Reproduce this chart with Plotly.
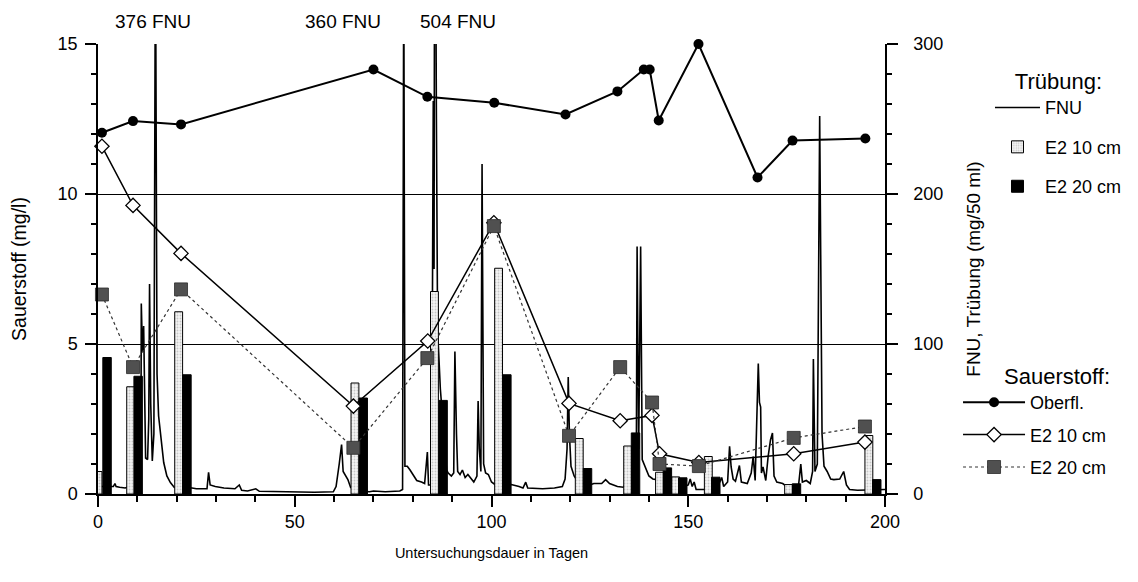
import plotly.graph_objects as go

# ---------------- data ----------------
# Continuous turbidity record (FNU), right axis
fnu_day = [0.0, 2.0, 3.9, 4.3, 4.6, 5.5, 6.9, 8.0, 9.5, 10.5, 10.9, 11.0, 11.3, 11.6, 11.9, 12.1, 12.6, 12.9,
           13.1, 13.4, 13.8, 14.2, 14.6, 15.0, 15.4, 16.0, 16.7, 17.5, 18.4, 19.4, 21.0, 23.9, 25.0, 27.7,
           28.1, 28.5, 29.8, 32.0, 34.8, 35.9, 36.5, 38.0, 40.1, 41.0, 45.0, 50.0, 55.0, 59.8, 60.5, 61.3,
           61.9, 62.3, 62.9, 63.5, 64.2, 66.0, 69.0, 70.0, 73.0, 76.7, 77.4, 77.7, 78.0, 78.6, 79.3, 80.2,
           81.0, 82.2, 83.0, 83.7, 84.0, 84.8, 85.2, 85.4, 85.6, 86.0, 86.3, 87.0, 88.6, 89.0, 89.8, 90.4,
           90.7, 91.1, 91.4, 92.0, 92.6, 93.3, 94.0, 94.9, 95.5, 96.3, 96.6, 96.9, 97.3, 97.6, 98.0, 98.5,
           99.2, 100.0, 101.0, 104.0, 105.0, 107.0, 108.0, 108.7, 109.2, 113.0, 116.0, 118.0, 118.7, 119.2,
           119.5, 119.8, 120.2, 121.0, 122.0, 125.0, 126.0, 128.0, 129.0, 130.0, 132.0, 133.5, 135.0, 136.8,
           137.0, 137.4, 137.9, 138.3, 139.0, 140.0, 141.0, 142.0, 143.0, 146.0, 148.0, 150.0, 150.5, 151.0,
           151.5, 152.0, 155.0, 157.0, 158.0, 158.5, 159.0, 160.0, 160.5, 160.9, 161.4, 162.0, 163.0, 163.5,
           165.0, 166.0, 166.5, 167.0, 167.8, 168.1, 168.4, 168.6, 169.0, 169.7, 170.3, 170.9, 171.4, 171.8,
           172.5, 174.0, 175.0, 178.0, 178.6, 179.0, 180.0, 181.0, 181.6, 181.8, 182.2, 182.8, 183.4, 184.0,
           184.5, 185.3, 186.2, 187.0, 188.5, 189.5, 190.2, 191.0, 193.0, 195.0, 197.0, 200.0]
fnu_val = [5, 5, 5, 7, 5, 4.5, 4, 5, 8, 15, 22, 127, 95, 112, 70, 24, 23, 50,
           140, 60, 22, 40, 376, 80, 52, 36, 21, 12, 7.6, 4.3, 4.5, 4, 3.5, 3.5,
           14.5, 6, 5, 4, 3.5, 6, 2.5, 2, 3.5, 1.8, 1.5, 1.6, 1.2, 1.5, 5, 20,
           33, 15, 12, 9.6, 4.3, 2, 1.5, 2, 1.5, 2, 3, 360, 18.5, 18.5, 16, 12,
           9, 8, 7, 28, 6, 6, 262, 150, 504, 250, 110, 70, 16, 14, 12, 14,
           95, 40, 15, 13, 16, 11, 13, 10, 8, 12, 62, 30, 15, 220, 20, 14,
           13, 8, 6, 6, 6.3, 5, 4, 7.9, 4, 3.5, 4, 5, 10, 30,
           78, 40, 18.5, 12, 8, 6, 7, 7, 9.6, 7, 5, 4.5, 10, 20,
           165, 30, 165, 23, 18, 12, 10, 9.6, 8, 5, 4, 6, 10, 5,
           8, 3, 3, 4, 8, 11, 5, 8, 31.8, 18, 10, 8.5, 19, 8,
           7, 14, 25, 9, 87, 61, 58, 14, 18, 9, 25, 36, 40.7, 12,
           8, 7, 5, 5, 20, 8, 9, 7, 15, 90, 15, 20, 252, 40,
           18.5, 15, 10, 9.6, 10, 15, 6, 3, 2.5, 2.5, 3, 3]

# Turbidity samples (mg/50 ml), right axis
bar10_day = [0.0, 8.3, 20.5, 65.3, 85.5, 101.8, 122.3, 134.6, 142.7, 146.8, 155.1, 175.5, 195.9]
bar10_val = [15, 71.5, 121.5, 74, 135, 150.5, 37, 32, 14.5, 11.4, 25, 6.3, 39]
bar20_day = [2.3, 10.2, 22.6, 67.4, 87.7, 103.9, 124.4, 136.6, 144.7, 148.6, 157.0, 177.5, 197.9]
bar20_val = [91, 78.5, 79.5, 64, 62.4, 79.5, 17, 40.7, 17.4, 10.8, 11.2, 6.8, 9.6]

# Oxygen (mg/l), left axis
o2_surf_day = [1.0, 8.9, 21.1, 70.0, 83.7, 100.7, 118.8, 132.0, 138.7, 140.2, 142.5, 152.6, 167.6, 176.5, 195.0]
o2_surf_val = [12.04, 12.43, 12.32, 14.15, 13.24, 13.04, 12.65, 13.42, 14.15, 14.15, 12.45, 15.0, 10.55, 11.78, 11.85]
o2_10_day = [1.0, 8.9, 21.1, 64.9, 83.8, 100.6, 119.7, 132.7, 140.8, 142.7, 152.7, 176.8, 194.9]
o2_10_val = [11.59, 9.62, 8.02, 2.93, 5.1, 9.04, 3.02, 2.44, 2.62, 1.34, 1.05, 1.34, 1.73]
o2_20_day = [1.0, 8.9, 21.1, 64.9, 83.7, 100.6, 119.7, 132.7, 140.8, 142.7, 152.7, 176.8, 194.9]
o2_20_val = [6.65, 4.23, 6.82, 1.54, 4.53, 8.93, 1.94, 4.23, 3.05, 1.0, 0.93, 1.87, 2.25]

# Off-scale peak labels
peak_labels = ["376 FNU", "360 FNU", "504 FNU"]
peak_label_day = [14.0, 62.3, 91.5]

# ---------------- figure ----------------
FONT = "Liberation Sans"
fig = go.Figure()

fig.add_trace(go.Scatter(
    x=fnu_day, y=fnu_val, mode="lines", name="FNU", yaxis="y",
    line=dict(color="black", width=1.6), legend="legend", legendgroup="a"))

fig.add_trace(go.Bar(
    x=bar10_day, y=bar10_val, width=[2.0] * len(bar10_day), name="E2 10 cm", yaxis="y2",
    marker=dict(color="#f0f0f0", line=dict(color="black", width=1),
                pattern=dict(shape=".", fgcolor="#9a9a9a", bgcolor="#f4f4f4", size=3, solidity=0.3)),
    legend="legend", legendgroup="b"))
fig.add_trace(go.Bar(
    x=bar20_day, y=bar20_val, width=[2.15] * len(bar20_day), name="E2 20 cm", yaxis="y2",
    marker=dict(color="black", line=dict(color="black", width=1)),
    legend="legend", legendgroup="c"))

fig.add_trace(go.Scatter(
    x=o2_surf_day, y=o2_surf_val, mode="lines+markers", name="Oberfl.", yaxis="y3",
    line=dict(color="black", width=2), marker=dict(symbol="circle", size=10, color="black"),
    cliponaxis=False, legend="legend2", legendgroup="d"))
fig.add_trace(go.Scatter(
    x=o2_10_day, y=o2_10_val, mode="lines+markers", name="E2 10 cm", yaxis="y3",
    line=dict(color="black", width=1.5),
    marker=dict(symbol="diamond", size=11, color="white", line=dict(color="black", width=1.3)),
    cliponaxis=False, legend="legend2", legendgroup="e"))
fig.add_trace(go.Scatter(
    x=o2_20_day, y=o2_20_val, mode="lines+markers", name="E2 20 cm", yaxis="y3",
    line=dict(color="#333333", width=1.2, dash="dot"),
    marker=dict(symbol="square", size=13, color="#505050", line=dict(color="#2a2a2a", width=0.8)),
    cliponaxis=False, legend="legend2", legendgroup="f"))

for lab, d in zip(peak_labels, peak_label_day):
    fig.add_annotation(x=d, xref="x", y=1, yref="paper", yanchor="bottom", yshift=10,
                       text=lab, showarrow=False, font=dict(size=19))

axis_common = dict(color="black", tickcolor="black", linecolor="black")

# The page adds an 8 px body margin, so the figure is 8 px smaller than the window
fig.update_layout(
    width=1130, height=574,
    margin=dict(l=90, r=253, t=36, b=88, autoexpand=False),
    plot_bgcolor="white", paper_bgcolor="white",
    barmode="overlay",
    font=dict(family=FONT, size=18, color="black"),
    xaxis=dict(range=[0, 200], tick0=0, dtick=50, ticks="outside", ticklen=11, tickwidth=1.5,
               minor=dict(dtick=10, ticks="outside", ticklen=6, tickwidth=1.5, tickcolor="black"),
               showline=True, linewidth=1.5, showgrid=False, zeroline=False, automargin=False,
               title=dict(text="Untersuchungsdauer in Tagen", standoff=17, font=dict(size=14.5)),
               **axis_common),
    yaxis=dict(range=[0, 300], dtick=100, showgrid=True, gridcolor="black", gridwidth=1.4,
               showticklabels=False, ticks="", zeroline=False, showline=False, automargin=False),
    yaxis2=dict(overlaying="y", side="right", range=[0, 300], tick0=0, dtick=100,
                ticks="outside", ticklen=11, tickwidth=1.5,
                minor=dict(dtick=20, ticks="outside", ticklen=5, tickwidth=1.5, tickcolor="black"),
                showline=True, linewidth=1.5, showgrid=False, zeroline=False, automargin=False,
                ticklabelstandoff=12,
                title=dict(text="FNU, Trübung (mg/50 ml)", standoff=24, font=dict(size=19)),
                **axis_common),
    yaxis3=dict(overlaying="y", side="left", range=[0, 15], tick0=0, dtick=5,
                ticks="outside", ticklen=11, tickwidth=1.5,
                minor=dict(dtick=1, ticks="outside", ticklen=5, tickwidth=1.5, tickcolor="black"),
                showline=True, linewidth=1.5, showgrid=False, zeroline=False, automargin=False,
                ticklabelstandoff=4,
                title=dict(text="Sauerstoff (mg/l)", standoff=27, font=dict(size=19.5)),
                **axis_common),
    legend=dict(x=1.1334, xanchor="left", y=0.963, yanchor="top", traceorder="grouped",
                tracegroupgap=13, itemwidth=45, bgcolor="rgba(0,0,0,0)",
                title=dict(text="Trübung:", side="top center"), font=dict(size=18)),
    legend2=dict(x=1.0928, xanchor="left", y=0.308, yanchor="top", traceorder="grouped",
                 tracegroupgap=6, itemwidth=62, bgcolor="rgba(0,0,0,0)",
                 title=dict(text="Sauerstoff:", side="top right"), font=dict(size=18)),
)

fig.write_html("out.html")
